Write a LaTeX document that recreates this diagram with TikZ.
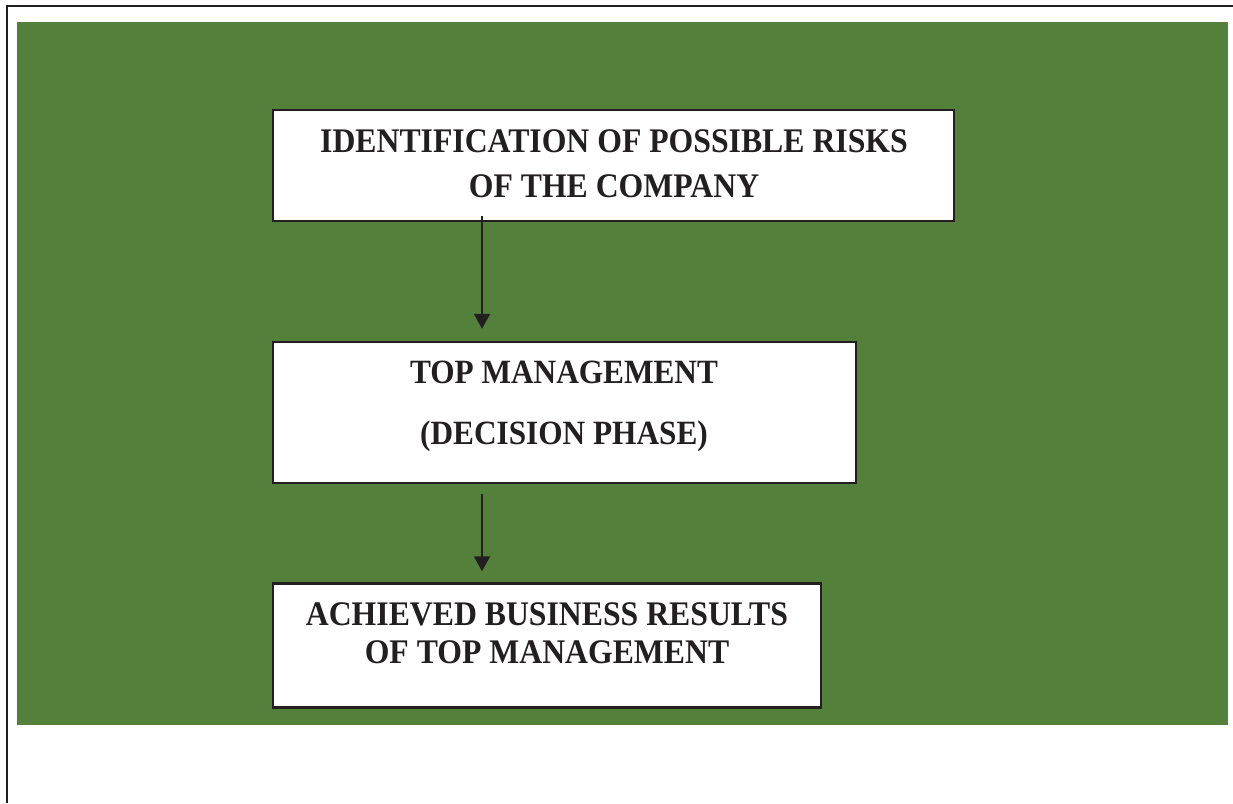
\documentclass[tikz,border=0pt]{standalone}
\usepackage{fontspec}
\newfontfamily\tnr[FakeStretch=0.92]{Liberation Serif}
\usetikzlibrary{arrows.meta}
\definecolor{bggreen}{RGB}{83,129,59}
\definecolor{ink}{RGB}{35,31,32}
\tikzset{
  box/.style={draw=ink, line width=2.5pt, fill=white, rectangle, inner sep=0pt},
  lbl/.style={anchor=base, inner sep=0pt, text=ink, font=\tnr\bfseries\fontsize{34.5}{38}\selectfont},
  arr/.style={draw=ink, line width=2pt, -{Triangle[width=16pt,length=15pt]}}
}
\begin{document}
\begin{tikzpicture}[x=1pt,y=-1pt]
\useasboundingbox (0,0) rectangle (1233,803);
\fill[bggreen] (17,22) rectangle (1228,725);
\draw[ink, line width=2.2pt] (7,803) -- (7,6) -- (1233,6);
\node[box, minimum width=681pt, minimum height=111pt] (b1) at (613.5,165.5) {};
\node[box, minimum width=583pt, minimum height=141pt] (b2) at (564.5,412.5) {};
\node[box, minimum width=548pt, minimum height=124pt] (b3) at (547,645.5) {};
\node[lbl] (t1a) at (614,152) {IDENTIFICATION OF POSSIBLE RISKS};
\node[lbl] (t1b) at (614,197) {OF THE COMPANY};
\node[lbl, font=\tnr\bfseries\fontsize{34}{38}\selectfont] (t2a) at (564,383) {TOP MANAGEMENT};
\node[lbl, font=\tnr\bfseries\fontsize{34}{38}\selectfont] (t2b) at (564,444) {(DECISION PHASE)};
\node[lbl] (t3a) at (547,625) {ACHIEVED BUSINESS RESULTS};
\node[lbl] (t3b) at (547,663) {OF TOP MANAGEMENT};
\draw[arr] ([yshift=6pt]b1.south -| 482,0) -- ([yshift=12pt]b2.north -| 482,0);
\draw[arr] ([yshift=-10pt]b2.south -| 482,0) -- ([yshift=11pt]b3.north -| 482,0);
\end{tikzpicture}
\end{document}
